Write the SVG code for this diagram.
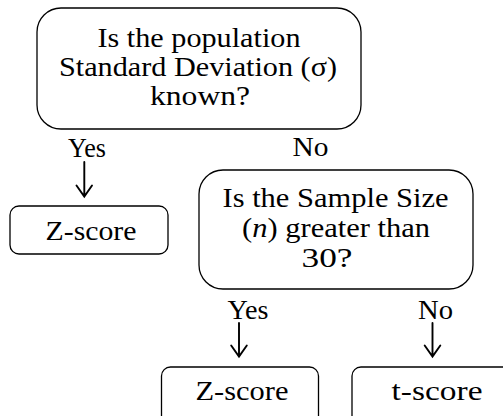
<svg xmlns="http://www.w3.org/2000/svg" width="503" height="416" viewBox="0 0 503 416">
<style>
.box{fill:#fff;stroke:#000;stroke-width:1.3}
.arr{fill:none;stroke:#000;stroke-width:1.9;stroke-linecap:round;stroke-linejoin:miter}
</style>
<rect width="503" height="416" fill="#fff"/>
<g id="q1">
<rect class="box" x="37" y="8" width="324" height="121" rx="24"/>
<text font-family="Liberation Serif" font-size="24" text-anchor="middle" transform="translate(199 46.5) scale(1 1.1)" textLength="203" lengthAdjust="spacingAndGlyphs">Is the population</text>
<text font-family="Liberation Serif" font-size="24" text-anchor="middle" transform="translate(198 75.5) scale(1 1.1)" textLength="278" lengthAdjust="spacingAndGlyphs">Standard Deviation (σ)</text>
<text font-family="Liberation Serif" font-size="24" text-anchor="middle" transform="translate(200 104.5) scale(1 1.1)" textLength="100" lengthAdjust="spacingAndGlyphs">known?</text>
</g>
<g id="z1">
<rect class="box" x="10" y="206" width="158" height="48" rx="9"/>
<text font-family="Liberation Serif" font-size="24" text-anchor="middle" transform="translate(91 239.5) scale(1 1.1)" textLength="91" lengthAdjust="spacingAndGlyphs">Z-score</text>
</g>
<g id="q2">
<rect class="box" x="199" y="170" width="274" height="119" rx="24"/>
<text font-family="Liberation Serif" font-size="24" text-anchor="middle" transform="translate(335.5 206.5) scale(1 1.1)" textLength="226" lengthAdjust="spacingAndGlyphs">Is the Sample Size</text>
<text font-family="Liberation Serif" font-size="24" text-anchor="middle" transform="translate(336 236.5) scale(1 1.1)" textLength="188" lengthAdjust="spacingAndGlyphs">(<tspan font-style="italic">n</tspan>) greater than</text>
<text font-family="Liberation Serif" font-size="24" text-anchor="middle" transform="translate(327 266.5) scale(1 1.1)" textLength="51" lengthAdjust="spacingAndGlyphs">30?</text>
</g>
<g id="z2">
<rect class="box" x="161.5" y="367" width="157" height="60" rx="9"/>
<text font-family="Liberation Serif" font-size="24" text-anchor="middle" transform="translate(242 399.5) scale(1 1.1)" textLength="93" lengthAdjust="spacingAndGlyphs">Z-score</text>
</g>
<g id="t1">
<rect class="box" x="352" y="367" width="170" height="60" rx="9"/>
<text font-family="Liberation Serif" font-size="24" text-anchor="middle" transform="translate(437 399.5) scale(1 1.1)" textLength="91" lengthAdjust="spacingAndGlyphs">t-score</text>
</g>
<g id="connectors">
<text font-family="Liberation Serif" font-size="24" text-anchor="middle" transform="translate(87 156.5) scale(1 1.1)" textLength="38" lengthAdjust="spacingAndGlyphs">Yes</text>
<text font-family="Liberation Serif" font-size="24" text-anchor="middle" transform="translate(310.5 156) scale(1 1.1)" textLength="36" lengthAdjust="spacingAndGlyphs">No</text>
<path class="arr" d="M84.3 162V196M76.5 185.5L84.3 196.5L92 185.5"/>
<text font-family="Liberation Serif" font-size="24" text-anchor="middle" transform="translate(248 318.5) scale(1 1.1)" textLength="41" lengthAdjust="spacingAndGlyphs">Yes</text>
<text font-family="Liberation Serif" font-size="24" text-anchor="middle" transform="translate(435.5 318.5) scale(1 1.1)" textLength="35" lengthAdjust="spacingAndGlyphs">No</text>
<path class="arr" d="M239 323V356M231.2 345.5L239 356.5L246.8 345.5"/>
<path class="arr" d="M432.5 323V356M424.7 345.5L432.5 356.5L440.3 345.5"/>
</g>
</svg>
